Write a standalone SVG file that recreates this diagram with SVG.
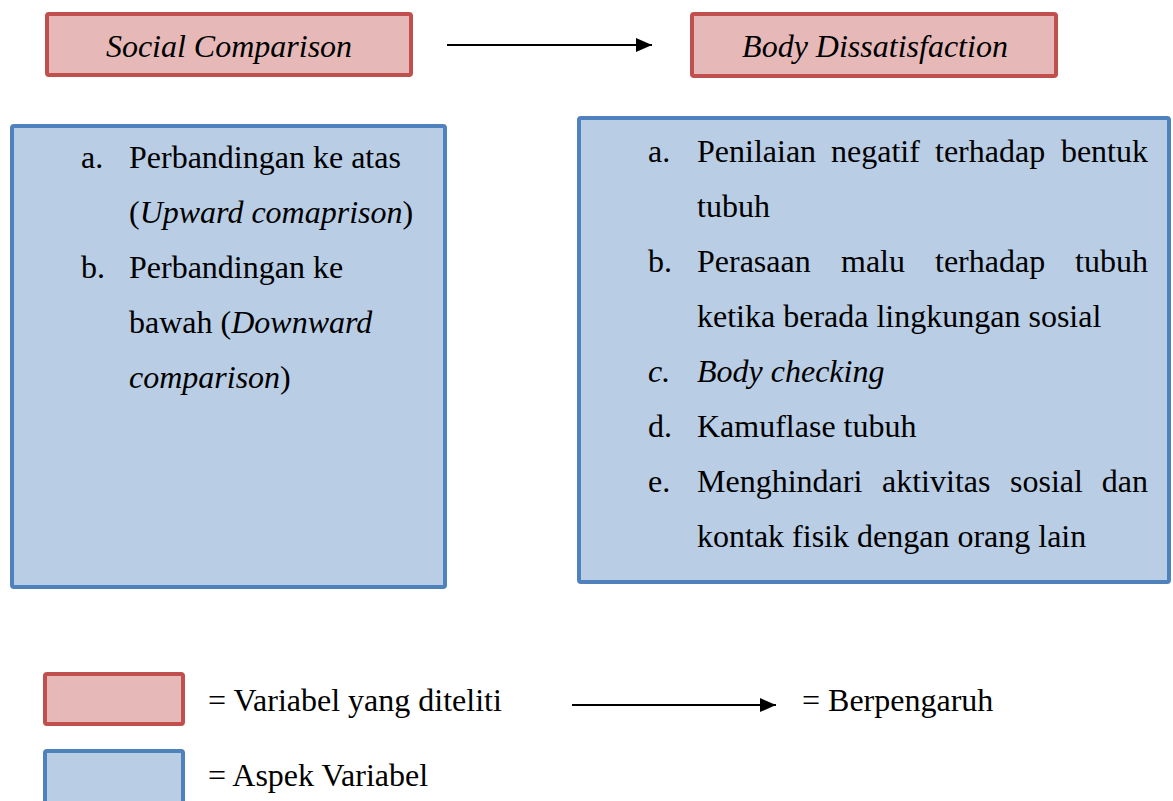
<svg xmlns="http://www.w3.org/2000/svg" width="1173" height="801" viewBox="0 0 1173 801">
<defs>
<marker id="ah" viewBox="0 0 16 14" refX="16" refY="7" markerWidth="16" markerHeight="14" markerUnits="userSpaceOnUse" orient="auto">
<path d="M0,0 L16,7 L0,14 Z" fill="#000"/>
</marker>
</defs>
<style>
text{font-family:"Liberation Serif","Times New Roman",serif;font-size:32px;fill:#000}
.i{font-style:italic}
.var{fill:#E6B9B8;stroke:#C0504D;stroke-width:4}
.asp{fill:#B9CDE5;stroke:#4F81BD;stroke-width:4}
.con{stroke:#000;stroke-width:2;fill:none;marker-end:url(#ah)}
</style>
<rect width="1173" height="801" fill="#fff"/>
<g id="social-comparison">
<rect class="var" x="47" y="14" width="364" height="61" rx="2"/>
<text class="i" x="229" y="57" text-anchor="middle">Social Comparison</text>
</g>
<g id="body-dissatisfaction">
<rect class="var" x="692" y="14" width="364" height="62" rx="2"/>
<text class="i" x="875" y="57" text-anchor="middle">Body Dissatisfaction</text>
</g>
<g id="aspek-social">
<rect class="asp" x="12" y="126" width="433" height="461" rx="2"/>
<text x="81" y="168">a.</text>
<text x="129" y="168">Perbandingan ke atas</text>
<text x="129" y="223">(<tspan class="i">Upward comaprison</tspan>)</text>
<text x="81" y="278">b.</text>
<text x="129" y="278">Perbandingan ke</text>
<text x="129" y="333">bawah (<tspan class="i">Downward</tspan></text>
<text x="129" y="388"><tspan class="i">comparison</tspan>)</text>
</g>
<g id="aspek-body">
<rect class="asp" x="579" y="118" width="590" height="464" rx="2"/>
<text x="648" y="162">a.</text>
<text x="697" y="162">Penilaian</text>
<text x="831" y="162">negatif</text>
<text x="935" y="162">terhadap</text>
<text x="1148" y="162" text-anchor="end">bentuk</text>
<text x="697" y="217">tubuh</text>
<text x="648" y="272">b.</text>
<text x="697" y="272">Perasaan</text>
<text x="841" y="272">malu</text>
<text x="935" y="272">terhadap</text>
<text x="1148" y="272" text-anchor="end">tubuh</text>
<text x="697" y="327">ketika berada lingkungan sosial</text>
<text class="i" x="648" y="382">c.</text>
<text class="i" x="697" y="382">Body checking</text>
<text x="648" y="437">d.</text>
<text x="697" y="437">Kamuflase tubuh</text>
<text x="648" y="492">e.</text>
<text x="697" y="492">Menghindari</text>
<text x="882" y="492">aktivitas</text>
<text x="1010" y="492">sosial</text>
<text x="1148" y="492" text-anchor="end">dan</text>
<text x="697" y="547">kontak fisik dengan orang lain</text>
</g>
<g id="connectors">
<line class="con" x1="447" y1="45" x2="652" y2="45"/>
</g>
<g id="legend">
<rect class="var" x="45" y="674" width="138" height="50" rx="2"/>
<text x="208" y="711">= Variabel yang diteliti</text>
<line class="con" x1="572" y1="705" x2="776" y2="705"/>
<text x="802" y="711">= Berpengaruh</text>
<rect class="asp" x="45" y="751" width="138" height="54" rx="2"/>
<text x="208" y="786">= Aspek Variabel</text>
</g>
</svg>
